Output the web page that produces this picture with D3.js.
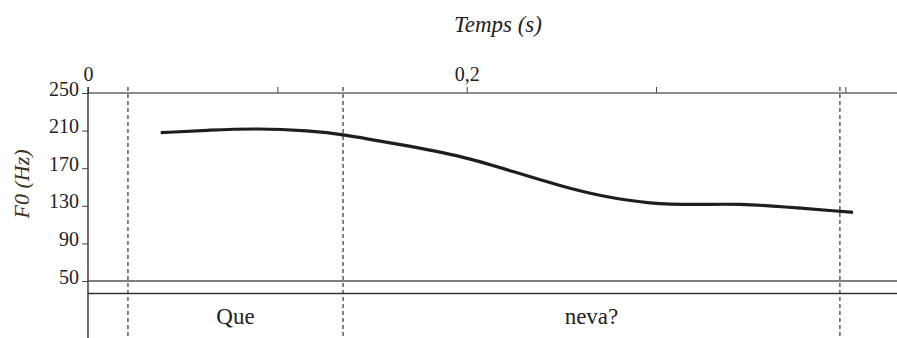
<!DOCTYPE html>
<html>
<head>
<meta charset="utf-8">
<script src="https://cdn.jsdelivr.net/npm/d3@7"></script>
<style>
  html, body { margin: 0; padding: 0; background: #fff; }
  svg { display: block; font-family: "Liberation Serif", "DejaVu Serif", serif; }
</style>
</head>
<body>
<svg id="chart" width="897" height="338"></svg>
<script>
// F0 contour of "Que neva?" (time in seconds, F0 in Hz)
const times = [0.0384, 0.0644, 0.0893, 0.1172, 0.1347, 0.1632, 0.1980, 0.2245, 0.2509, 0.2704, 0.2968, 0.3232, 0.3443, 0.3670, 0.3971, 0.4040];
const f0 = [207.8, 210.6, 212.4, 209.9, 206.1, 195.7, 182.9, 166.3, 150.3, 140.4, 131.9, 131.2, 132.2, 129.0, 124.1, 123.1];

// Segment boundaries (s) and word labels
const boundaries = [0.0211, 0.1347, 0.3971];
const words = ["Que", "neva?"];

// Axis ticks
const timeTicks = [0, 0.1, 0.2, 0.3, 0.4];
const timeTickLabels = ["0", "", "0,2", "", ""];
const f0Ticks = [250, 210, 170, 130, 90, 50];

const svg = d3.select("#chart");
const W = 897, H = 338;
const x0 = 88;
const serif = "Liberation Serif, serif";

const x = d3.scaleLinear().domain([0, 0.2]).range([x0, 466.7]);
const y = d3.scaleLinear().domain([50, 250]).range([281, 93]);

// Top time axis
const topAxis = d3.axisTop(x)
  .tickValues(timeTicks)
  .tickSize(6)
  .tickFormat((d, i) => timeTickLabels[i]);
const gTop = svg.append("g").attr("transform", `translate(0,${y(250)})`).call(topAxis);
gTop.attr("font-family", serif);
gTop.select(".domain").remove();
gTop.selectAll(".tick line").attr("stroke", "#444").attr("stroke-width", 1);
gTop.selectAll(".tick text")
  .attr("font-size", 20).attr("fill", "#222")
  .attr("dy", "-0.15em");
svg.append("line")
  .attr("x1", x0).attr("x2", W).attr("y1", y(250)).attr("y2", y(250))
  .attr("stroke", "#666").attr("stroke-width", 1.3);

// Left F0 axis
const leftAxis = d3.axisLeft(y).tickValues(f0Ticks).tickSize(6).tickFormat(d3.format("d"));
const gLeft = svg.append("g").attr("transform", `translate(${x0},0)`).call(leftAxis);
gLeft.attr("font-family", serif);
gLeft.select(".domain").remove();
gLeft.selectAll(".tick line").attr("stroke", "#444").attr("stroke-width", 1);
gLeft.selectAll(".tick text")
  .attr("font-size", 20).attr("fill", "#222")
  .attr("x", -9).attr("dy", "0.1em");

// Vertical axis line
svg.append("line")
  .attr("x1", x0).attr("x2", x0).attr("y1", y(250) - 6).attr("y2", H)
  .attr("stroke", "#222").attr("stroke-width", 1.3);

// Baseline at 50 Hz and the tier separator below it
svg.append("line")
  .attr("x1", x0).attr("x2", W).attr("y1", y(50)).attr("y2", y(50))
  .attr("stroke", "#555").attr("stroke-width", 1.3);
svg.append("line")
  .attr("x1", x0).attr("x2", W).attr("y1", y(50) + 12.5).attr("y2", y(50) + 12.5)
  .attr("stroke", "#333").attr("stroke-width", 1.3);

// Segment boundaries
svg.selectAll("line.bound").data(boundaries).enter().append("line")
  .attr("class", "bound")
  .attr("x1", d => x(d)).attr("x2", d => x(d))
  .attr("y1", y(250) - 6).attr("y2", H)
  .attr("stroke", "#333").attr("stroke-width", 1.2)
  .attr("stroke-dasharray", "4,3");

// Word labels centred in each segment
svg.selectAll("text.word").data(words).enter().append("text")
  .attr("class", "word")
  .attr("x", (d, i) => (x(boundaries[i]) + x(boundaries[i + 1])) / 2)
  .attr("y", 324)
  .attr("text-anchor", "middle")
  .attr("font-family", serif)
  .attr("font-size", 23).attr("fill", "#222")
  .text(d => d);

// F0 contour
const line = d3.line()
  .x((d, i) => x(times[i]))
  .y(d => y(d))
  .curve(d3.curveBasis);
svg.append("path")
  .datum(f0)
  .attr("d", line)
  .attr("fill", "none")
  .attr("stroke", "#1e1e1e")
  .attr("stroke-width", 3.2)
  .attr("stroke-linecap", "butt");

// Axis titles
svg.append("text")
  .attr("x", 498).attr("y", 32)
  .attr("text-anchor", "middle")
  .attr("font-family", serif)
  .attr("font-size", 23).attr("font-style", "italic").attr("fill", "#222")
  .text("Temps (s)");
svg.append("text")
  .attr("transform", "translate(29,184) rotate(-90)")
  .attr("text-anchor", "middle")
  .attr("font-family", serif)
  .attr("font-size", 22).attr("font-style", "italic").attr("fill", "#3a3020")
  .text("F0 (Hz)");
</script>
</body>
</html>
